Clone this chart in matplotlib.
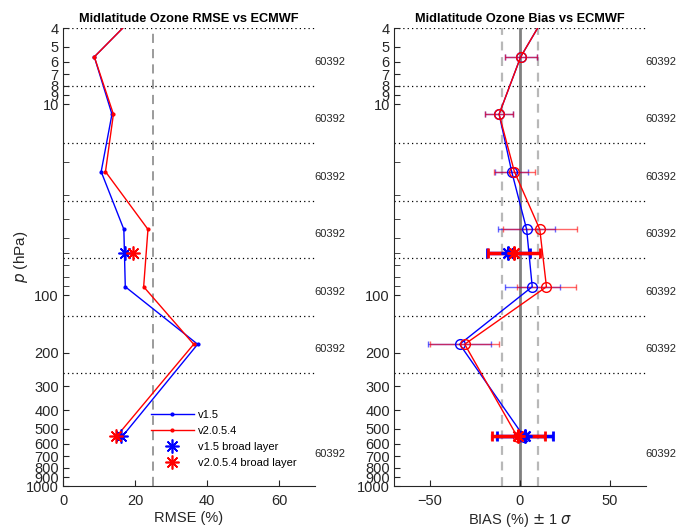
import matplotlib
matplotlib.use('Agg')
import matplotlib.pyplot as plt
from matplotlib.ticker import FixedLocator, NullFormatter

plt.rcParams['font.family'] = ['Liberation Sans', 'DejaVu Sans']
plt.rcParams['mathtext.fontset'] = 'dejavusans'

# layer centres (hPa); the first one is above the plot top and gets clipped
p_mid = [2.83, 5.66, 11.3, 22.6, 45.3, 90.5, 181, 555]
p_broad = [60, 550]
layer_edges = [4, 8, 16, 32, 64, 128, 256]
label_p = [6, 12, 24, 48, 96, 192, 680]
label_txt = ['60392'] * 7

# RMSE (%)
rmse_v15 = [24.5, 8.7, 13.6, 10.6, 16.9, 17.3, 37.4, 16.3]
rmse_v2 = [24.5, 8.7, 14.0, 11.8, 23.6, 22.4, 36.3, 14.7]
rmse_broad_v15 = [17.2, 16.1]
rmse_broad_v2 = [19.5, 14.7]

# bias (%) and 1 sigma
bias_v15 = [19.2, 0.4, -11.6, -4.6, 3.7, 6.8, -33.5, 2.4]
sig_v15 = [9, 8.8, 8.0, 9.0, 16.0, 15.3, 17.5, 15.5]
bias_v2 = [19.2, 0.4, -11.6, -3.1, 11.0, 14.7, -30.7, -1.3]
sig_v2 = [9, 8.8, 8.0, 11.4, 20.5, 16.3, 19.3, 14.7]
bias_broad_v15 = [-6.4, 2.6]
sig_broad_v15 = [12.0, 15.5]
bias_broad_v2 = [-3.3, -0.9]
sig_broad_v2 = [14.3, 14.7]

yt_major = [4, 5, 6, 7, 8, 9, 10, 100, 200, 300, 400, 500, 600, 700, 800, 900, 1000]
yt_minor = [20, 30, 40, 50, 60, 70, 80, 90]

fig = plt.figure(figsize=(6.76, 5.31), dpi=100)
ax1 = fig.add_axes([0.0932, 0.0847, 0.3728, 0.8625])
ax2 = fig.add_axes([0.5828, 0.0847, 0.3728, 0.8625])

def style_axes(ax):
    ax.set_yscale('log')
    ax.set_ylim(1000, 4)
    ax.yaxis.set_major_locator(FixedLocator(yt_major))
    ax.set_yticklabels([str(v) for v in yt_major])
    ax.yaxis.set_minor_locator(FixedLocator(yt_minor))
    ax.yaxis.set_minor_formatter(NullFormatter())
    ax.tick_params(which='both', direction='in', length=4, labelsize=10.5, color='#262626', labelcolor='#262626')
    ax.tick_params(axis='y', pad=3)
    ax.tick_params(axis='x', pad=6)
    for s in ['top', 'right']:
        ax.spines[s].set_visible(False)
    for s in ['left', 'bottom']:
        ax.spines[s].set_color('#262626')
    for pe in layer_edges:
        ax.axhline(pe, color='black', lw=0.9, linestyle=(0, (1, 2.5)), zorder=1)
    for pl, t in zip(label_p, label_txt):
        ax.text(0.998, pl, t, transform=ax.get_yaxis_transform(), ha='left', va='center', fontsize=8.0, color='#262626')

# left: RMSE
style_axes(ax1)
ax1.axvline(25, color='#808080', lw=1.1, linestyle=(0, (6, 4)), zorder=1)
ax1.plot(rmse_v15, p_mid, '-', color='blue', lw=1, marker='.', ms=4, label='v1.5', zorder=3)
ax1.plot(rmse_v2, p_mid, '-', color='red', lw=1, marker='.', ms=4, label='v2.0.5.4', zorder=3)
ax1.plot(rmse_broad_v15, p_broad, ls='none', marker=(8, 2, 0), ms=10, mew=1.2, color='blue', label='v1.5 broad layer', zorder=4)
ax1.plot(rmse_broad_v2, p_broad, ls='none', marker=(8, 2, 0), ms=10, mew=1.2, color='red', label='v2.0.5.4 broad layer', zorder=4)
ax1.set_xlim(0, 70)
ax1.set_xticks([0, 20, 40, 60])
ax1.set_xlabel('RMSE (%)', fontsize=10.5, color='#262626', labelpad=2)
ax1.set_ylabel('$p$ (hPa)', fontsize=11, color='#262626')
ax1.yaxis.set_label_coords(-0.13, 0.5)
ax1.set_title('Midlatitude Ozone RMSE vs ECMWF', fontsize=9.2, fontweight='bold', pad=4)
ax1.legend(loc='lower left', bbox_to_anchor=(0.33, 0.03), frameon=False, fontsize=8,
           handlelength=3.9, handletextpad=0.4, labelspacing=0.55, borderaxespad=0)

# right: bias
style_axes(ax2)
ax2.axvline(0, color='#808080', lw=2, zorder=1)
ax2.axvline(-10, color='#b8b8b8', lw=1.6, linestyle=(0, (4, 3)), zorder=1)
ax2.axvline(10, color='#b8b8b8', lw=1.6, linestyle=(0, (4, 3)), zorder=1)
ax2.errorbar(bias_v15, p_mid, xerr=sig_v15, fmt='none', ecolor='blue', elinewidth=1, capsize=2.5, alpha=0.6, zorder=2)
ax2.errorbar(bias_v2, p_mid, xerr=sig_v2, fmt='none', ecolor='red', elinewidth=1, capsize=2.5, alpha=0.6, zorder=2)
ax2.plot(bias_v15, p_mid, '-', color='blue', lw=1, marker='o', ms=7, mfc='none', mew=1, zorder=3)
ax2.plot(bias_v2, p_mid, '-', color='red', lw=1, marker='o', ms=7, mfc='none', mew=1, zorder=3)
ax2.errorbar(bias_broad_v15, p_broad, xerr=sig_broad_v15, fmt='none', ecolor='blue', elinewidth=2.5, capsize=3.5, capthick=2, zorder=4)
ax2.errorbar(bias_broad_v2, p_broad, xerr=sig_broad_v2, fmt='none', ecolor='red', elinewidth=2.5, capsize=3.5, capthick=2, zorder=4)
ax2.plot(bias_broad_v15, p_broad, ls='none', marker=(8, 2, 0), ms=10, mew=1.5, color='blue', zorder=5)
ax2.plot(bias_broad_v2, p_broad, ls='none', marker=(8, 2, 0), ms=10, mew=1.5, color='red', zorder=5)
ax2.set_xlim(-70, 70)
ax2.set_xticks([-50, 0, 50])
ax2.set_xlabel('BIAS (%) $\\pm$ 1 $\\sigma$', fontsize=10.5, color='#262626', labelpad=2)
ax2.set_title('Midlatitude Ozone Bias vs ECMWF', fontsize=9.2, fontweight='bold', pad=4)

fig.savefig('out.png', dpi=100)
